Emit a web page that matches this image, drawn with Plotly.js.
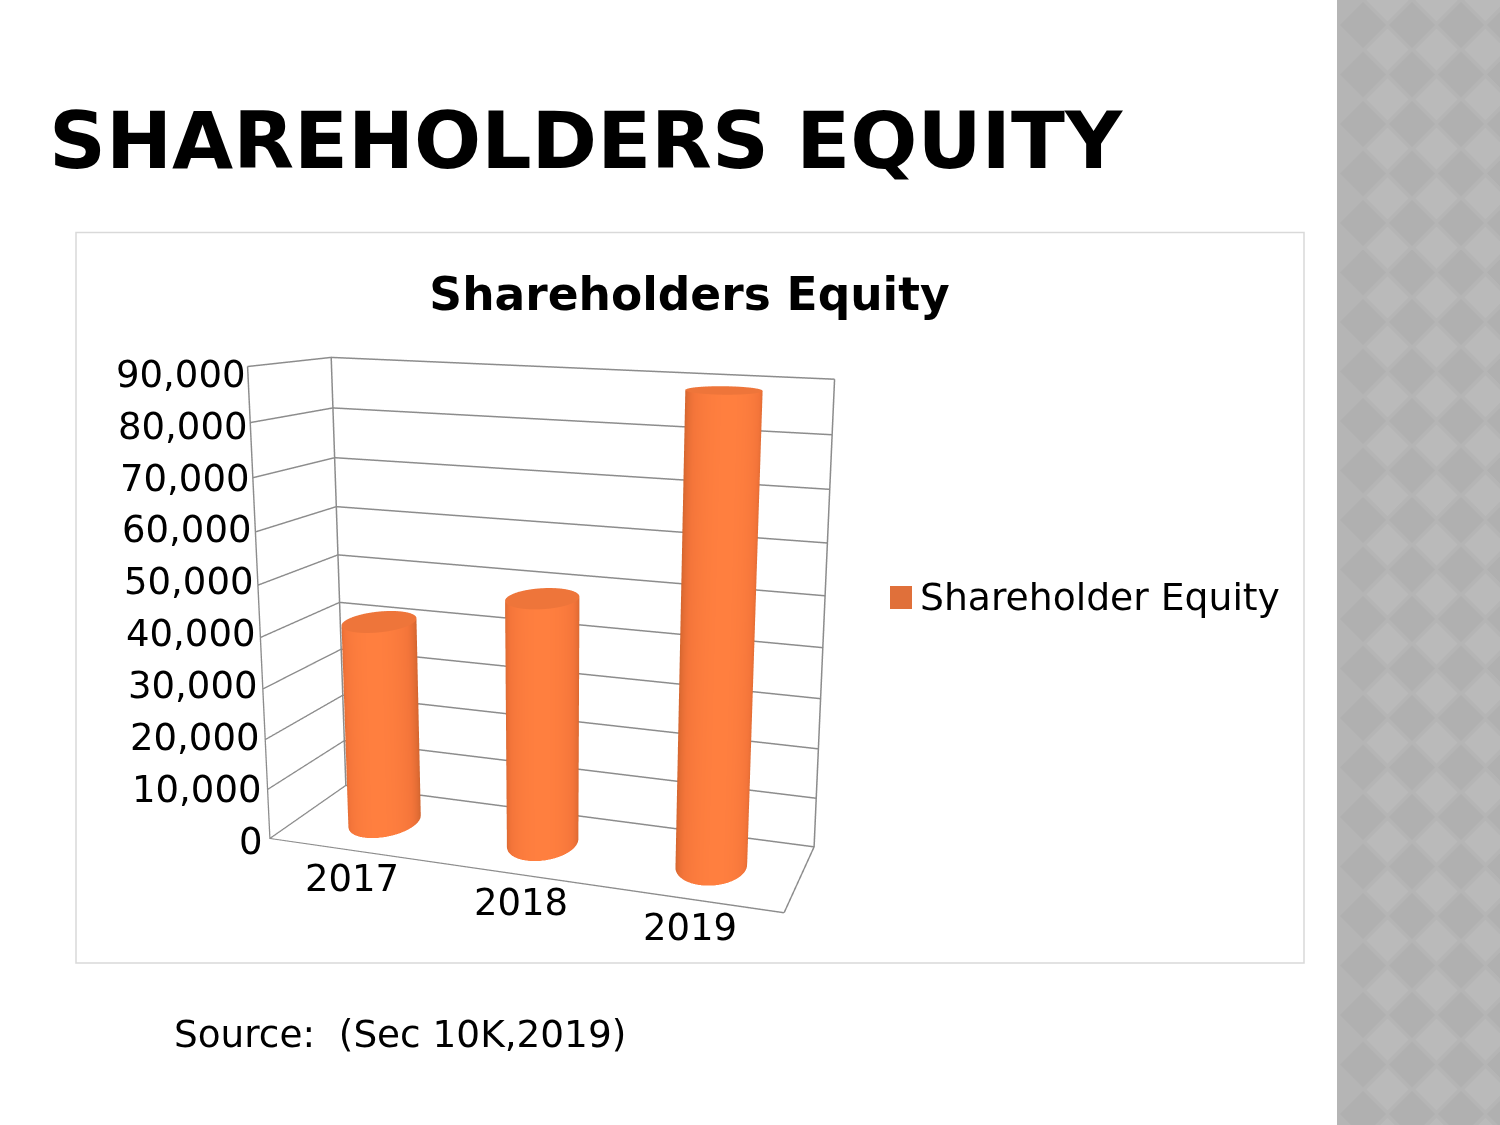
<!DOCTYPE html>
<html><head><meta charset="utf-8">
<script src="https://cdn.plot.ly/plotly-3.0.0.min.js"></script>
<style>html,body{margin:0;padding:0;background:#fff}#c{width:1500px;height:1125px}</style>
</head><body><div id="c"></div>
<script>
const categories = ['2017','2018','2019'];
const seriesName = 'Shareholder Equity';
const equity = [41000, 48500, 88400];
const zTicks = [0,10000,20000,30000,40000,50000,60000,70000,80000,90000];
const zTickLabels = ['0','10,000','20,000','30,000','40,000','50,000','60,000','70,000','80,000','90,000'];

// label nudges, pixels
const zLabelYShift = [-3,0,2,4,4,4,2,-1,-4,-8];
const zLabelXShift = [-5,-5,-4,-4,-3,-3,-2,-2,-1,-1];
const xLabelXShift = [3,7,-1];

const AS = {x:1.6889, y:0.4835, z:1.5091};
const XR = [-0.5, 2.5], YR = [0,1], ZR = [0, 90000];
const R = 0.195, RY = 1.3*R/(XR[1]-XR[0])*AS.x/AS.y*(YR[1]-YR[0]);
const N = 48;
const flat = {ambient:1,diffuse:0,specular:0,roughness:1,fresnel:0};
const noHi = {x:{highlight:false},y:{highlight:false},z:{highlight:false}};
const traces = [];
equity.forEach((v,i)=>{
  const xs=[],ys=[],zs=[],cs=[];
  [0,v].forEach(h=>{
    const rx=[],ry=[],rz=[],rc=[];
    for(let k=0;k<=N;k++){
      const t=2*Math.PI*k/N;
      rx.push(i+R*Math.cos(t)); ry.push(0.5+RY*Math.sin(t)); rz.push(h);
      rc.push(Math.max(0,Math.cos(t-(-Math.PI/2+0.45))));
    }
    xs.push(rx);ys.push(ry);zs.push(rz);cs.push(rc);
  });
  traces.push({type:'surface',x:xs,y:ys,z:zs,surfacecolor:cs,cmin:0,cmax:1,showscale:false,hoverinfo:'skip',
    name:seriesName+' '+categories[i],
    colorscale:[[0,'#D2652F'],[0.55,'#F4753A'],[1,'#FF7F3F']],
    lighting:flat,contours:noHi});
  const cx=[],cy=[],cz=[],cc=[];
  [0,1].forEach(f=>{
    const rx=[],ry=[],rz=[],rc=[];
    for(let k=0;k<=N;k++){
      const t=2*Math.PI*k/N;
      rx.push(i+f*R*Math.cos(t)); ry.push(0.5+f*RY*Math.sin(t)); rz.push(v); rc.push(0);
    }
    cx.push(rx);cy.push(ry);cz.push(rz);cc.push(rc);
  });
  traces.push({type:'surface',x:cx,y:cy,z:cz,surfacecolor:cc,cmin:0,cmax:1,showscale:false,hoverinfo:'skip',
    name:seriesName+' top '+categories[i],
    colorscale:[[0,'#EE753A'],[1,'#EE753A']],
    lighting:flat,contours:noHi});
});
const x0=XR[0],y0=YR[0];

const tickFont={family:'DejaVu Sans',size:37,color:'#000'};
const sceneAnn=[];
zTicks.forEach((z,i)=>sceneAnn.push({x:x0,y:y0,z:z,text:zTickLabels[i],showarrow:false,xanchor:'right',yanchor:'middle',xshift:zLabelXShift[i],yshift:zLabelYShift[i],font:tickFont}));
categories.forEach((c,i)=>sceneAnn.push({x:i,y:y0,z:0,text:c,showarrow:false,xanchor:'center',yanchor:'top',xshift:xLabelXShift[i],yshift:-5,font:tickFont}));

let dark='',light='';
for(let r=-1;r<25;r++)for(let c=0;c<5;c++){
  const cx=1363+49*c,cy=25+49.5*r;
  dark+=`M${cx},${cy-23}L${cx+23},${cy}L${cx},${cy+23}L${cx-23},${cy}Z `;
  const lx=cx+24.5,ly=cy+24.7;
  light+=`M${lx},${ly-21}L${lx+21},${ly}L${lx},${ly+21}L${lx-21},${ly}Z `;
}
const shapes=[
 {type:'rect',xref:'x',yref:'y',x0:76,x1:1304,y0:232.5,y1:963,line:{color:'#d9d9d9',width:1.5},fillcolor:'#fff',layer:'below'},
 {type:'rect',xref:'x',yref:'y',x0:1337,x1:1500,y0:0,y1:1125,line:{width:0},fillcolor:'#b5b5b5',layer:'below'},
 {type:'path',xref:'x',yref:'y',path:dark,line:{width:0},fillcolor:'#b0b0b0',layer:'below'},
 {type:'path',xref:'x',yref:'y',path:light,line:{width:0},fillcolor:'#bababa',layer:'below'},
 {type:'rect',xref:'x',yref:'y',x0:890,x1:912,y0:586,y1:609,line:{width:0},fillcolor:'#E0703A',layer:'above'}
];
const annotations=[
 {xref:'x',yref:'y',x:47,y:141,text:'<b>SHAREHOLDERS EQUITY</b>',showarrow:false,xanchor:'left',yanchor:'middle',font:{family:'DejaVu Sans',size:79,color:'#000'}},
 {xref:'x',yref:'y',x:918,y:597,text:seriesName,showarrow:false,xanchor:'left',yanchor:'middle',font:{family:'DejaVu Sans',size:37.7,color:'#000'}},
 {xref:'x',yref:'y',x:172,y:1034,text:'Source:  (Sec 10K,2019)',showarrow:false,xanchor:'left',yanchor:'middle',font:{family:'DejaVu Sans',size:37.4,color:'#000'}}
];
const axisBase={zeroline:false,showline:false,showticklabels:false,ticks:'',showbackground:false,title:{text:''},showspikes:false,showgrid:true,gridcolor:'#8c8c8c',gridwidth:3};
const layout={
 width:1500,height:1125,margin:{l:0,r:0,t:0,b:0},paper_bgcolor:'#fff',plot_bgcolor:'rgba(0,0,0,0)',showlegend:false,
 title:{text:'<b>Shareholders Equity</b>',x:689.5/1500,xanchor:'center',y:1-294/1125,yanchor:'middle',font:{family:'DejaVu Sans',size:45.5,color:'#000'}},
 xaxis:{range:[0,1500],visible:false,fixedrange:true},
 yaxis:{range:[1125,0],visible:false,fixedrange:true},
 shapes,annotations,
 scene:{domain:{x:[0,0.92938],y:[0,1]},aspectmode:'manual',aspectratio:AS,
  camera:{eye:{x:1.5152,y:-3.8362,z:1.0728},center:{x:1.2329,y:-2.7761,z:0.8348},up:{x:-0.2254,y:0.7440,z:1},projection:{type:'perspective'}},
  xaxis:Object.assign({},axisBase,{range:XR,tickvals:XR}),
  yaxis:Object.assign({},axisBase,{range:YR,tickvals:YR}),
  zaxis:Object.assign({},axisBase,{range:ZR,tickvals:zTicks}),
  annotations:sceneAnn}
};
traces.push({type:'scatter',x:[null],y:[null],name:seriesName,showlegend:false,hoverinfo:'skip'});
Plotly.newPlot('c',traces,layout,{displayModeBar:false});
</script></body></html>
